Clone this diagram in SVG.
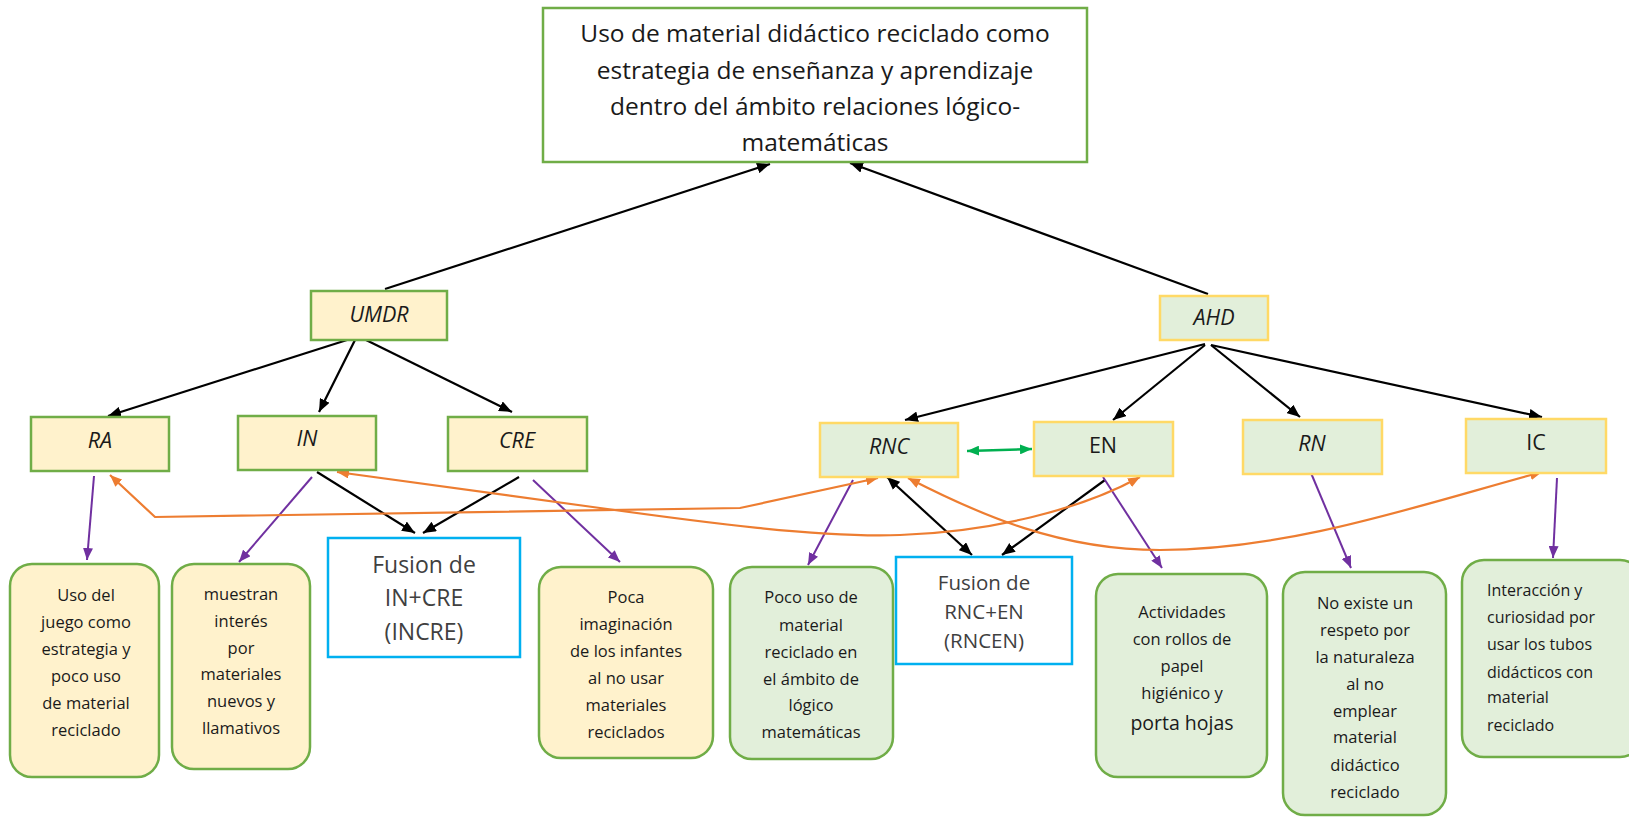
<svg xmlns="http://www.w3.org/2000/svg" width="1629" height="817" viewBox="0 0 1629 817">
<defs>
<marker id="ab" markerUnits="userSpaceOnUse" viewBox="0 0 12 10" refX="12" refY="5" markerWidth="13" markerHeight="11" orient="auto-start-reverse"><path d="M0,0 L12,5 L0,10 z" fill="#000"/></marker>
<marker id="ao" markerUnits="userSpaceOnUse" viewBox="0 0 12 10" refX="12" refY="5" markerWidth="12" markerHeight="10" orient="auto-start-reverse"><path d="M0,0 L12,5 L0,10 z" fill="#ed7d31"/></marker>
<marker id="ap" markerUnits="userSpaceOnUse" viewBox="0 0 12 10" refX="12" refY="5" markerWidth="12" markerHeight="10" orient="auto-start-reverse"><path d="M0,0 L12,5 L0,10 z" fill="#7030a0"/></marker>
<marker id="ag" markerUnits="userSpaceOnUse" viewBox="0 0 12 10" refX="12" refY="5" markerWidth="12" markerHeight="10" orient="auto-start-reverse"><path d="M0,0 L12,5 L0,10 z" fill="#00b050"/></marker>
</defs>
<style>
text{font-family:"Open Sans","Noto Sans","Liberation Sans",sans-serif;fill:#1a1a1a;text-anchor:middle}
.t{font-size:24.5px}
.k{font-size:21.5px;font-style:italic}
.kn{font-size:21.5px}
.b{font-size:16.5px}
.bs{font-size:16px;text-anchor:start}
.f{font-size:23px;fill:#404040}
.f2{font-size:20.5px;fill:#404040}
.ly{fill:#fff2cc;stroke:#70ad47;stroke-width:2.5}
.lg{fill:#e2efda;stroke:#ffd966;stroke-width:2.5}
.rg{fill:#e2efda;stroke:#70ad47;stroke-width:2.5}
.ry{fill:#fff2cc;stroke:#70ad47;stroke-width:2.5}
.bl{fill:#fff;stroke:#00b0f0;stroke-width:2.5}
.cb{fill:none;stroke:#000;stroke-width:2.2;marker-end:url(#ab)}
.co{fill:none;stroke:#ed7d31;stroke-width:2.2;marker-end:url(#ao);marker-start:url(#ao)}
.cp{fill:none;stroke:#7030a0;stroke-width:2;marker-end:url(#ap)}
</style>
<rect width="1629" height="817" fill="#fff"/>
<g id="connectors">
<line class="cb" x1="385" y1="289" x2="770" y2="164"/>
<line class="cb" x1="1208" y1="294" x2="850" y2="163"/>
<line class="cb" x1="347" y1="340" x2="108" y2="416"/>
<line class="cb" x1="355" y1="340" x2="319" y2="412"/>
<line class="cb" x1="362" y1="338" x2="512" y2="412"/>
<line class="cb" x1="1205" y1="344" x2="905" y2="420"/>
<line class="cb" x1="1205" y1="345" x2="1113" y2="420"/>
<line class="cb" x1="1211" y1="345" x2="1300" y2="417"/>
<line class="cb" x1="1211" y1="345" x2="1542" y2="417"/>
<line class="cb" x1="317" y1="472" x2="415" y2="533"/>
<line class="cb" x1="519" y1="477" x2="423" y2="533"/>
<line class="cb" x1="887" y1="477" x2="972" y2="555" marker-start="url(#ab)"/>
<line class="cb" x1="1105" y1="480" x2="1002" y2="555"/>
<line x1="967" y1="451" x2="1032" y2="449" fill="none" stroke="#00b050" stroke-width="2.5" marker-start="url(#ag)" marker-end="url(#ag)"/>
<line class="cp" x1="94" y1="476" x2="87" y2="560"/>
<line class="cp" x1="312" y1="477" x2="239" y2="562"/>
<line class="cp" x1="533" y1="480" x2="620" y2="562"/>
<line class="cp" x1="853" y1="480" x2="808" y2="565"/>
<line class="cp" x1="1103" y1="477" x2="1162" y2="568"/>
<line class="cp" x1="1311" y1="473" x2="1351" y2="568"/>
<line class="cp" x1="1557" y1="478" x2="1553" y2="558"/>
<path class="co" d="M110,475 L155,517 L740,508 L878,478"/>
<path class="co" d="M337,472 L600,508 C700,522 820,538 900,535 C990,532 1080,510 1140,477"/>
<path class="co" d="M908,478 C980,515 1060,550 1160,550 C1290,550 1420,505 1542,472"/>
</g>
<g id="title">
<rect x="543" y="8" width="544" height="154" fill="#fff" stroke="#70ad47" stroke-width="2.5"/>
<text class="t" x="815" y="42">Uso de material didáctico reciclado como</text>
<text class="t" x="815" y="79">estrategia de enseñanza y aprendizaje</text>
<text class="t" x="815" y="115">dentro del ámbito relaciones lógico-</text>
<text class="t" x="815" y="151">matemáticas</text>
</g>
<g id="UMDR"><rect class="ly" x="311" y="291" width="136" height="49"/><text class="k" x="379" y="322">UMDR</text></g>
<g id="AHD"><rect class="lg" x="1160" y="296" width="108" height="44"/><text class="k" x="1214" y="325">AHD</text></g>
<g id="RA"><rect class="ly" x="31" y="417" width="138" height="54"/><text class="k" x="100" y="448">RA</text></g>
<g id="IN"><rect class="ly" x="238" y="416" width="138" height="54"/><text class="k" x="307" y="446">IN</text></g>
<g id="CRE"><rect class="ly" x="448" y="417" width="139" height="54"/><text class="k" x="517" y="448">CRE</text></g>
<g id="RNC"><rect class="lg" x="820" y="423" width="138" height="54"/><text class="k" x="889" y="454">RNC</text></g>
<g id="EN"><rect class="lg" x="1034" y="422" width="139" height="54"/><text class="kn" x="1103" y="453">EN</text></g>
<g id="RN"><rect class="lg" x="1243" y="420" width="139" height="54"/><text class="k" x="1312" y="451">RN</text></g>
<g id="IC"><rect class="lg" x="1466" y="419" width="140" height="54"/><text class="kn" x="1536" y="450">IC</text></g>
<g id="INCRE"><rect class="bl" x="328" y="538" width="192" height="119"/>
<text class="f" x="424" y="573">Fusion de</text><text class="f" x="424" y="606">IN+CRE</text><text class="f" x="424" y="640">(INCRE)</text></g>
<g id="RNCEN"><rect class="bl" x="896" y="557" width="176" height="107"/>
<text class="f2" x="984" y="590">Fusion de</text><text class="f2" x="984" y="619">RNC+EN</text><text class="f2" x="984" y="648">(RNCEN)</text></g>
<g id="B1"><rect class="ry" x="10" y="564" width="149" height="213" rx="22"/>
<text class="b" x="86" y="601">Uso del</text><text class="b" x="86" y="628">juego como</text><text class="b" x="86" y="655">estrategia y</text><text class="b" x="86" y="682">poco uso</text><text class="b" x="86" y="709">de material</text><text class="b" x="86" y="736">reciclado</text></g>
<g id="B2"><rect class="ry" x="172" y="564" width="138" height="205" rx="22"/>
<text class="b" x="241" y="600">muestran</text><text class="b" x="241" y="627">interés</text><text class="b" x="241" y="654">por</text><text class="b" x="241" y="680">materiales</text><text class="b" x="241" y="707">nuevos y</text><text class="b" x="241" y="734">llamativos</text></g>
<g id="B3"><rect class="ry" x="539" y="567" width="174" height="191" rx="22"/>
<text class="b" x="626" y="603">Poca</text><text class="b" x="626" y="630">imaginación</text><text class="b" x="626" y="657">de los infantes</text><text class="b" x="626" y="684">al no usar</text><text class="b" x="626" y="711">materiales</text><text class="b" x="626" y="738">reciclados</text></g>
<g id="B4"><rect class="rg" x="730" y="567" width="163" height="192" rx="22"/>
<text class="b" x="811" y="603">Poco uso de</text><text class="b" x="811" y="631">material</text><text class="b" x="811" y="658">reciclado en</text><text class="b" x="811" y="685">el ámbito de</text><text class="b" x="811" y="711">lógico</text><text class="b" x="811" y="738">matemáticas</text></g>
<g id="B5"><rect class="rg" x="1096" y="574" width="171" height="203" rx="22"/>
<text class="b" x="1182" y="618">Actividades</text><text class="b" x="1182" y="645">con rollos de</text><text class="b" x="1182" y="672">papel</text><text class="b" x="1182" y="699">higiénico y</text><text class="b" x="1182" y="730" style="font-size:19.5px">porta hojas</text></g>
<g id="B6"><rect class="rg" x="1283" y="572" width="163" height="243" rx="22"/>
<text class="b" x="1365" y="609">No existe un</text><text class="b" x="1365" y="636">respeto por</text><text class="b" x="1365" y="663">la naturaleza</text><text class="b" x="1365" y="690">al no</text><text class="b" x="1365" y="717">emplear</text><text class="b" x="1365" y="743">material</text><text class="b" x="1365" y="771">didáctico</text><text class="b" x="1365" y="798">reciclado</text></g>
<g id="B7"><rect class="rg" x="1462" y="560" width="180" height="197" rx="22"/>
<text class="bs" x="1487" y="596">Interacción y</text><text class="bs" x="1487" y="623">curiosidad por</text><text class="bs" x="1487" y="650">usar los tubos</text><text class="bs" x="1487" y="678">didácticos con</text><text class="bs" x="1487" y="703">material</text><text class="bs" x="1487" y="731">reciclado</text></g>
</svg>
